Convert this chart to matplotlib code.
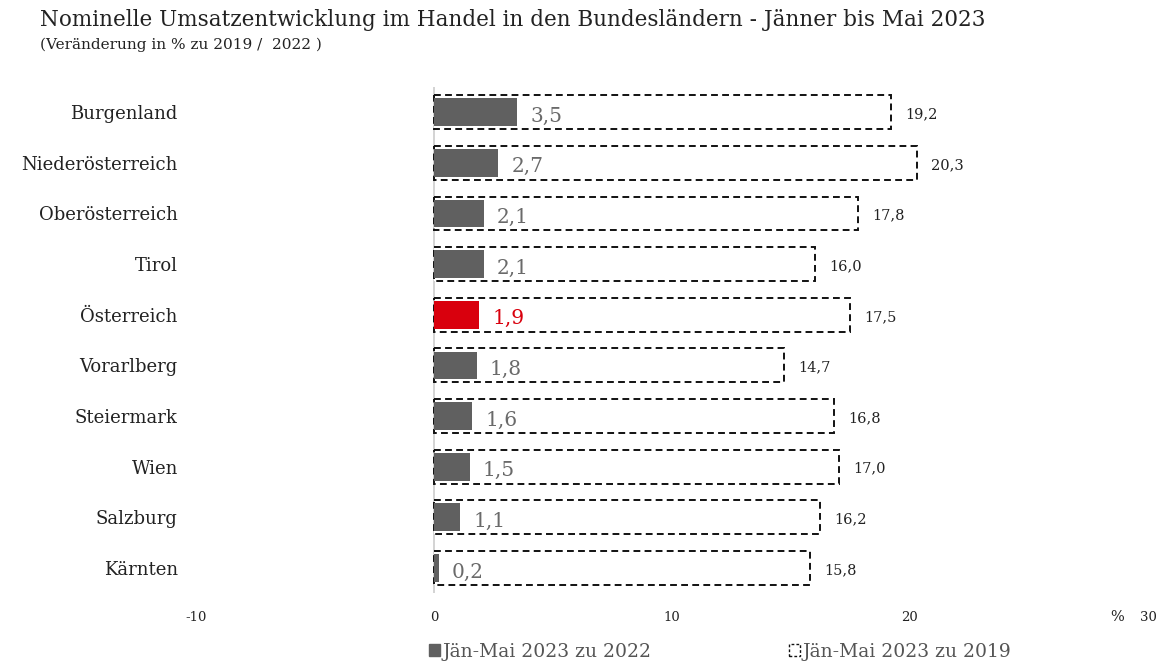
import matplotlib
matplotlib.use("Agg")
import matplotlib.pyplot as plt
from matplotlib.patches import Patch

categories = ["Burgenland", "Niederösterreich", "Oberösterreich", "Tirol", "Österreich",
              "Vorarlberg", "Steiermark", "Wien", "Salzburg", "Kärnten"]
vs_2022 = [3.5, 2.7, 2.1, 2.1, 1.9, 1.8, 1.6, 1.5, 1.1, 0.2]
vs_2019 = [19.2, 20.3, 17.8, 16.0, 17.5, 14.7, 16.8, 17.0, 16.2, 15.8]
xticks = [-10, 0, 10, 20, 30]
series_labels = ["Jän-Mai 2023 zu 2022", "Jän-Mai 2023 zu 2019"]
highlight = "Österreich"

FONT = "DejaVu Serif"
plt.rcParams["font.family"] = [FONT, "DejaVu Sans"]

fig = plt.figure(figsize=(11.59, 6.63), dpi=100)
ax = fig.add_axes([0.169, 0.105, 0.8215, 0.764])

gray = "#606060"
red = "#d9000d"
ypos = list(range(len(categories)))

ax.barh(ypos, vs_2019, height=0.67, facecolor="white", edgecolor="#111111",
        linestyle=(0, (3.5, 2.2)), linewidth=1.4, zorder=2)
colors = [red if c == highlight else gray for c in categories]
ax.barh(ypos, vs_2022, height=0.55, color=colors, zorder=3)

def fmt(v):
    return f"{v:.1f}".replace(".", ",")

for y, a, b, c in zip(ypos, vs_2022, vs_2019, categories):
    col = red if c == highlight else "#6a6a6a"
    ax.text(a + 0.55, y + 0.08, fmt(a), va="center", ha="left", fontsize=14.5,
            color=col, zorder=4)
    ax.text(b + 0.6, y + 0.04, fmt(b), va="center", ha="left", fontsize=10.5,
            color="#222222", zorder=4)

ax.axvline(0, color="#cccccc", linewidth=1.2, zorder=1)
ax.set_xlim(-10, 30)
ax.set_ylim(len(categories) - 0.5, -0.5)
ax.set_yticks(ypos)
ax.set_yticklabels(categories, fontsize=13, color="#222222")
ax.set_xticks(xticks)
ax.set_xticklabels([str(t) for t in xticks], fontsize=9.5, color="#222222")
ax.tick_params(axis="both", length=0)
ax.tick_params(axis="y", pad=13)
ax.tick_params(axis="x", pad=13)
for s in ax.spines.values():
    s.set_visible(False)

fig.text(1117 / 1159, 1 - 617 / 663, "%", fontsize=10.5, color="#222222", ha="center", va="center")

fig.text(40 / 1159, 1 - 20 / 663, "Nominelle Umsatzentwicklung im Handel in den Bundesländern - Jänner bis Mai 2023",
         fontsize=15.5, color="#222222", ha="left", va="center")
fig.text(40 / 1159, 1 - 45 / 663, "(Veränderung in % zu 2019 /  2022 )",
         fontsize=11, color="#222222", ha="left", va="center")

handles = [Patch(facecolor=gray, edgecolor=gray),
           Patch(facecolor="white", edgecolor="#111111", linestyle=(0, (2, 1.5)), linewidth=1)]
leg = fig.legend(handles, series_labels, loc="center", bbox_to_anchor=(720 / 1159, 1 - 652 / 663),
                 ncol=2, frameon=False, fontsize=13.5, handlelength=0.6, handleheight=0.6,
                 handletextpad=0.15, columnspacing=7.3, borderpad=0.1)
for t in leg.get_texts():
    t.set_color("#555555")

fig.savefig("out.png", dpi=100)
